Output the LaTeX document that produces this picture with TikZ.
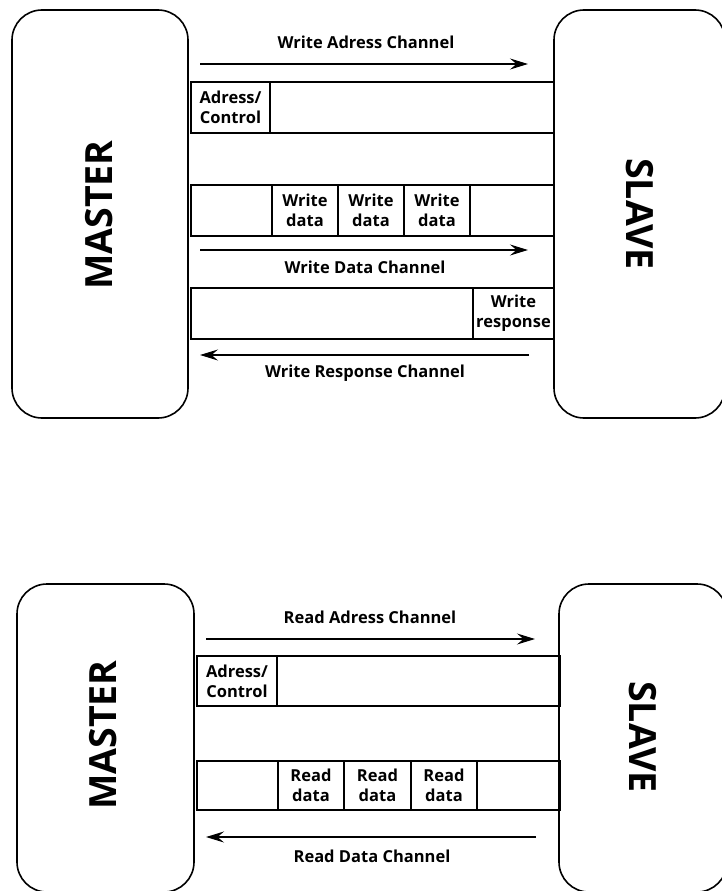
\documentclass[tikz,border=0pt]{standalone}
\usepackage{fontspec}
\setmainfont{Open Sans}
\usetikzlibrary{arrows.meta}

\begin{document}
\begin{tikzpicture}[x=1pt,y=-1pt,
  agent/.style={draw, line width=1.6pt, rounded corners=30pt, inner sep=0pt},
  lane/.style={draw, line width=2pt, anchor=north west, inner sep=0pt, minimum width=363pt},
  cell/.style={draw, line width=2pt, anchor=north west, inner sep=0pt, align=center,
    font=\fontsize{16.5}{20}\selectfont\bfseries},
  chan/.style={font=\fontsize{16.5}{20}\selectfont\bfseries},
  side/.style={font=\fontsize{37.5}{40}\selectfont\bfseries},
  flow/.style={line width=1.5pt, -{Stealth[length=18pt,width=11pt,inset=6.5pt]}},
]
\useasboundingbox (0,0) rectangle (722,891);

% ---------- write transaction ----------
\node[agent, minimum width=176pt, minimum height=408pt] (m1) at (100,214) {};
\node[agent, minimum width=171pt, minimum height=408pt] (s1) at (639.5,214) {};
\node[side, rotate=90] (m1t) at (99,215) {MASTER};
\node[side, rotate=-90] (s1t) at (640,214) {SLAVE};

\node[lane, minimum height=51pt] (wa) at (190,81) {};
\node[lane, minimum height=51pt] (wd) at (190,184) {};
\node[lane, minimum height=51pt] (wr) at (190,287) {};

\node[cell, minimum width=79pt, minimum height=51pt] (wac) at (190,81) {Adress/\\Control};
\node[cell, minimum width=66pt, minimum height=51pt] (wd1) at (271,184) {Write\\data};
\node[cell, minimum width=66pt, minimum height=51pt] (wd2) at (337,184) {Write\\data};
\node[cell, minimum width=66pt, minimum height=51pt] (wd3) at (403,184) {Write\\data};
\node[cell, minimum width=81pt, minimum height=51pt] (wrc) at (472,287) {Write\\response};

\coordinate (wa0) at (200,64);  \coordinate (wa1) at (528,64);
\coordinate (wd0) at (200,250); \coordinate (wd1e) at (528,250);
\coordinate (wr0) at (200,355); \coordinate (wr1) at (529,355);
\draw[flow] (wa0) -- (wa1);
\draw[flow] (wd0) -- (wd1e);
\draw[flow] (wr1) -- (wr0);
\node[chan] (wal) at (366,42) {Write Adress Channel};
\node[chan] (wdl) at (365,267) {Write Data Channel};
\node[chan] (wrl) at (365,373) {Write Response Channel};

% ---------- read transaction ----------
\node[agent, minimum width=177pt, minimum height=308pt] (m2) at (105.5,738) {};
\node[agent, minimum width=168pt, minimum height=308pt] (s2) at (643,738) {};
\node[side, rotate=90] (m2t) at (103,735) {MASTER};
\node[side, rotate=-90] (s2t) at (643,737) {SLAVE};

\node[lane, minimum height=50pt] (ra) at (196,655) {};
\node[lane, minimum height=49pt] (rd) at (196,760) {};

\node[cell, minimum width=80pt, minimum height=50pt] (rac) at (196,655) {Adress/\\Control};
\node[cell, minimum width=66pt, minimum height=49pt] (rd1) at (277,760) {Read\\data};
\node[cell, minimum width=67pt, minimum height=49pt] (rd2) at (343,760) {Read\\data};
\node[cell, minimum width=66pt, minimum height=49pt] (rd3) at (410,760) {Read\\data};

\coordinate (ra0) at (206,639); \coordinate (ra1) at (535,639);
\coordinate (rr0) at (206,837); \coordinate (rr1) at (536,837);
\draw[flow] (ra0) -- (ra1);
\draw[flow] (rr1) -- (rr0);
\node[chan] (ral) at (370,617) {Read Adress Channel};
\node[chan] (rrl) at (372,856) {Read Data Channel};
\end{tikzpicture}
\end{document}
